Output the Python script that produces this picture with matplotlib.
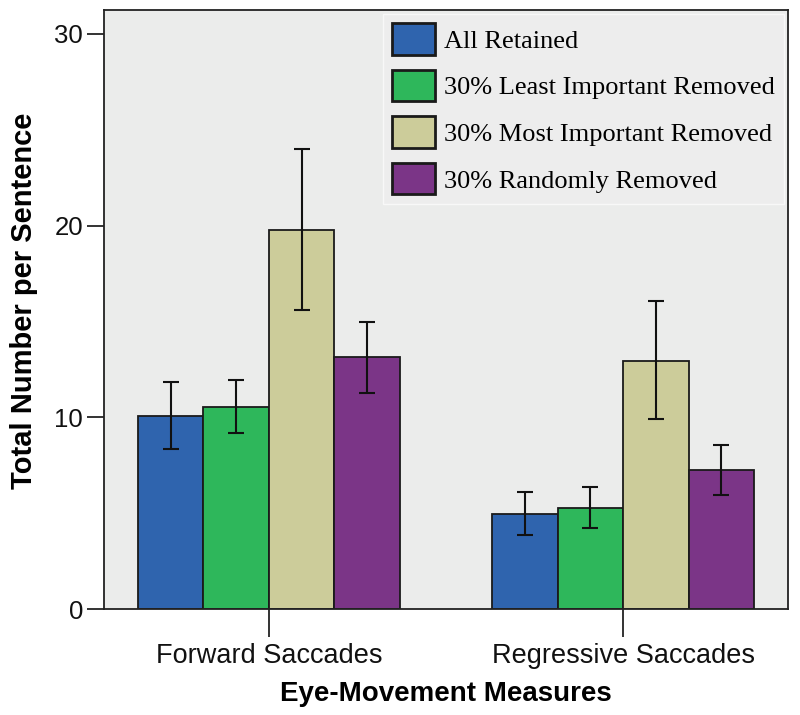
import numpy as np
import matplotlib
matplotlib.use("Agg")
import matplotlib.pyplot as plt
from matplotlib.patches import Patch

plt.rcParams['font.family'] = ['Liberation Sans', 'DejaVu Sans']

# data
groups = ["Forward Saccades", "Regressive Saccades"]
conditions = ["All Retained", "30% Least Important Removed",
              "30% Most Important Removed", "30% Randomly Removed"]
means = {
    "All Retained": [10.1, 4.97],
    "30% Least Important Removed": [10.55, 5.28],
    "30% Most Important Removed": [19.8, 12.97],
    "30% Randomly Removed": [13.15, 7.25],
}
ci_low = {
    "All Retained": [8.33, 3.86],
    "30% Least Important Removed": [9.18, 4.24],
    "30% Most Important Removed": [15.6, 9.9],
    "30% Randomly Removed": [11.3, 5.95],
}
ci_high = {
    "All Retained": [11.84, 6.1],
    "30% Least Important Removed": [11.93, 6.35],
    "30% Most Important Removed": [24.0, 16.07],
    "30% Randomly Removed": [14.97, 8.55],
}
colors = ["#2F64AE", "#2EB75B", "#CCCC9A", "#7B3587"]

fig = plt.figure(figsize=(8, 7.15), dpi=100)
ax = fig.add_axes([0.13, 0.148, 0.855, 0.838])
ax.set_facecolor("#EBECEB")

x = np.arange(len(groups))
w = 0.185
for i, cond in enumerate(conditions):
    pos = x + (i - 1.5) * w
    m = np.array(means[cond])
    lo = m - np.array(ci_low[cond])
    hi = np.array(ci_high[cond]) - m
    ax.bar(pos, m, width=w, color=colors[i], edgecolor="#1a1a1a", linewidth=1.3, zorder=2)
    ax.errorbar(pos, m, yerr=[lo, hi], fmt="none", ecolor="#111111",
                elinewidth=1.5, capsize=6, capthick=1.5, zorder=3)

ax.set_xlim(-0.466, 1.466)
ax.set_ylim(0, 31.25)
ax.set_yticks([0, 10, 20, 30])
ax.set_xticks(x)
ax.set_xticklabels(groups)

ax.tick_params(axis="y", length=12, width=1.2, labelsize=18.5, pad=3, colors="#111111")
ax.tick_params(axis="x", length=20, width=1.2, labelsize=19.5, pad=4, colors="#111111")
for s in ax.spines.values():
    s.set_linewidth(1.3)
    s.set_color("#222222")

ax.set_xlabel("Eye-Movement Measures", fontsize=20, fontweight="bold", labelpad=9)
ax.set_ylabel("Total Number per Sentence", fontsize=21, fontweight="bold")
ax.yaxis.set_label_coords(-0.096, 0.515)

# LEGEND
handles = [Patch(facecolor=colors[i], edgecolor="#1a1a1a", linewidth=2, label=c)
           for i, c in enumerate(conditions)]
leg = ax.legend(handles=handles, loc="upper right", bbox_to_anchor=(1.0, 1.0),
                prop={"family": "Liberation Serif", "size": 19},
                handlelength=1.6, handleheight=1.45, labelspacing=0.58,
                handletextpad=0.35, borderpad=0.35, borderaxespad=0.15,
                fancybox=False, framealpha=1)
leg.get_frame().set_facecolor("#EDEDED")
leg.get_frame().set_edgecolor("#F8F8F8")

fig.savefig("out.png", dpi=100)
